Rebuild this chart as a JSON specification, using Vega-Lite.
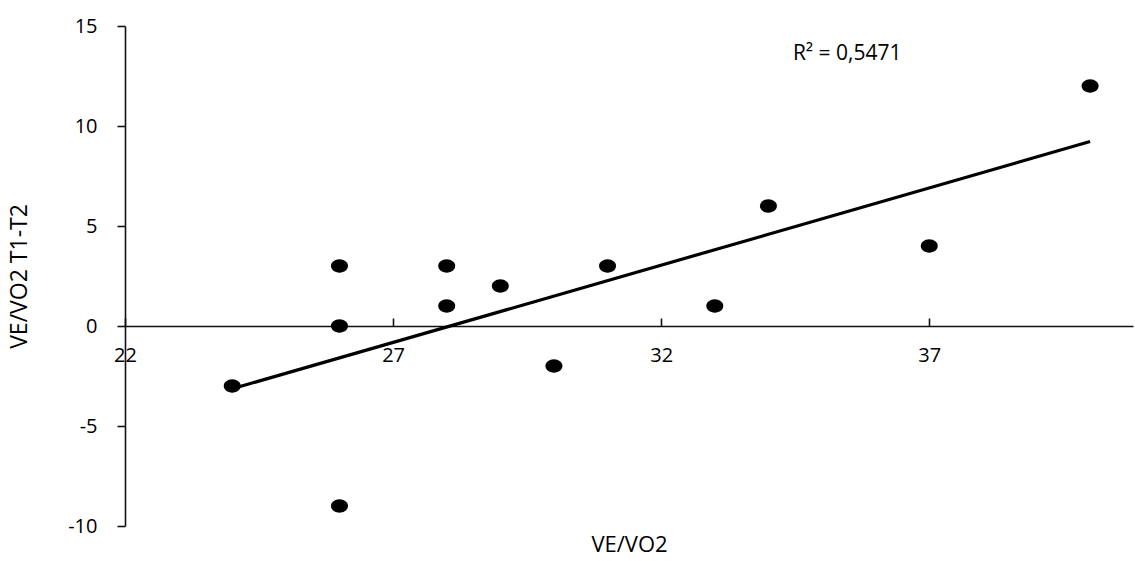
{
  "$schema": "https://vega.github.io/schema/vega-lite/v6.json",
  "autosize": {"type": "none"},
  "padding": {"left": 125, "top": 26, "right": 2, "bottom": 35},
  "width": 1008,
  "height": 500,
  "background": "white",
  "config": {
    "view": {"stroke": null},
    "font": "Open Sans",
    "axis": {"grid": false, "domainColor": "#111", "tickColor": "#111", "labelColor": "#000", "titleColor": "#000", "labelFont": "Open Sans", "titleFont": "Open Sans", "labelFontSize": 20, "titleFontSize": 23, "titleFontWeight": "normal", "domainWidth": 1.6, "tickWidth": 1.6}
  },
  "data": {
    "values": [
      {"x": 24, "y": -3},
      {"x": 26, "y": 3},
      {"x": 26, "y": 0},
      {"x": 26, "y": -9},
      {"x": 28, "y": 3},
      {"x": 28, "y": 1},
      {"x": 29, "y": 2},
      {"x": 30, "y": -2},
      {"x": 31, "y": 3},
      {"x": 33, "y": 1},
      {"x": 34, "y": 6},
      {"x": 37, "y": 4},
      {"x": 40, "y": 12}
    ]
  },
  "layer": [
    {
      "mark": {"type": "point", "filled": true, "color": "black", "opacity": 1, "size": 290, "shape": "M-1,0A1,0.78 0 1,0 1,0A1,0.78 0 1,0 -1,0Z"},
      "encoding": {
        "x": {"field": "x", "type": "quantitative", "scale": {"domain": [22, 40.8], "nice": false, "zero": false},
          "axis": {"title": "VE/VO2", "titleFontSize": 22, "values": [22, 27, 32, 37], "offset": -200, "tickSize": -8, "labelPadding": 27, "titleY": 218, "titleBaseline": "middle", "labelFlush": false}},
        "y": {"field": "y", "type": "quantitative", "scale": {"domain": [-10, 15], "nice": false, "zero": false},
          "axis": {"title": "VE/VO2 T1-T2", "values": [-10, -5, 0, 5, 10, 15], "labelExpr": "'' + datum.value", "tickSize": 8, "labelPadding": 20, "titleX": -106, "titleY": 250, "titleAngle": -90, "titleBaseline": "middle", "titleAlign": "center"}}
      }
    },
    {
      "transform": [{"regression": "y", "on": "x", "extent": [24, 40]}],
      "mark": {"type": "line", "color": "black", "strokeWidth": 3.2},
      "encoding": {
        "x": {"field": "x", "type": "quantitative"},
        "y": {"field": "y", "type": "quantitative"}
      }
    },
    {
      "data": {"values": [{"x": 35.47, "y": 13.6, "label": "R² = 0,5471"}]},
      "mark": {"type": "text", "fontSize": 21, "font": "Open Sans", "color": "#000"},
      "encoding": {
        "x": {"field": "x", "type": "quantitative"},
        "y": {"field": "y", "type": "quantitative"},
        "text": {"field": "label"}
      }
    }
  ]
}
